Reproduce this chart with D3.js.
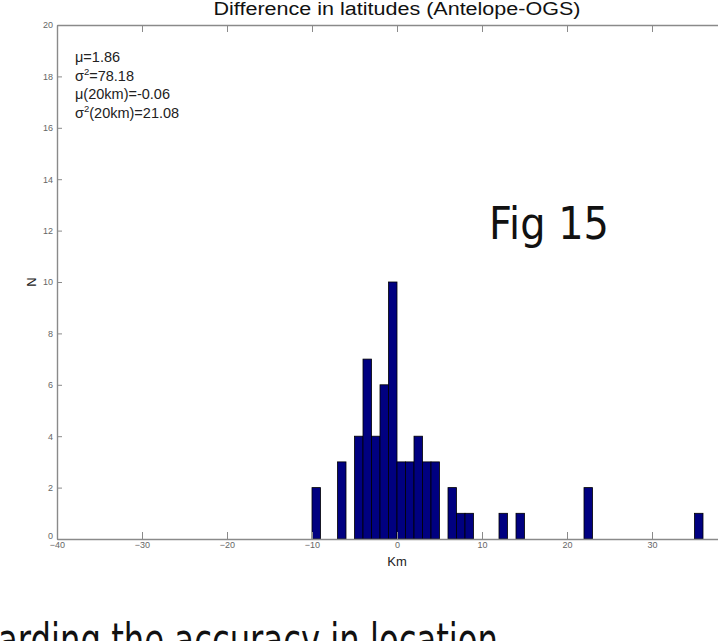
<!DOCTYPE html>
<html>
<head>
<meta charset="utf-8">
<script src="https://cdn.jsdelivr.net/npm/d3@7"></script>
<style>
  html, body { margin: 0; padding: 0; background: #fff; overflow: hidden; }
  svg { display: block; }
</style>
</head>
<body>
<svg id="chart" width="718" height="641"></svg>
<script>
// Histogram of latitude differences, 1 km bins (left edge of each bin)
const binLeft = [-10, -7, -5, -4, -3, -2, -1, 0, 1, 2, 3, 4, 6, 7, 8, 12, 14, 22, 35];
const binCount = [2, 3, 4, 7, 4, 6, 10, 3, 3, 4, 3, 3, 2, 1, 1, 1, 1, 2, 1];
const binWidth = 1;

const xTicks = [-40, -30, -20, -10, 0, 10, 20, 30];
const yTicks = [0, 2, 4, 6, 8, 10, 12, 14, 16, 18, 20];

const statLines = [
  { sym: "\u03bc", sup: "", rest: "=1.86" },
  { sym: "\u03c3", sup: "2", rest: "=78.18" },
  { sym: "\u03bc", sup: "", rest: "(20km)=-0.06" },
  { sym: "\u03c3", sup: "2", rest: "(20km)=21.08" }
];

const titleText = "Difference in latitudes (Antelope-OGS)";
const xLabel = "Km";
const yLabel = "N";
const figLabel = "Fig 15";
const captionText = "arding the accuracy in location";

const svg = d3.select("#chart");
const axisColor = "#8a8a8a";

// Axis box spans -40..40 km; the right end runs past the visible page
const x = d3.scaleLinear().domain([-40, 40]).range([57, 737]);
const y = d3.scaleLinear().domain([0, 20]).range([539, 25]);

// Bars
svg.append("g")
  .selectAll("rect")
  .data(binLeft.map((l, i) => ({ l, c: binCount[i] })))
  .join("rect")
  .attr("x", d => x(d.l))
  .attr("y", d => y(d.c))
  .attr("width", d => x(d.l + binWidth) - x(d.l))
  .attr("height", d => y(0) - y(d.c))
  .attr("fill", "#000080")
  .attr("stroke", "#000")
  .attr("stroke-width", 0.8);

// Axes (ticks pointing inward)
const styleAxis = g => {
  g.select(".domain").attr("stroke", axisColor).attr("stroke-width", 1.4);
  g.selectAll(".tick line").attr("stroke", axisColor).attr("stroke-width", 1);
  g.selectAll(".tick text").attr("fill", "#666")
    .attr("font-family", "Liberation Sans, Arial, sans-serif").attr("font-size", 9);
};

svg.append("g")
  .attr("transform", `translate(0,${y(0)})`)
  .call(d3.axisBottom(x).tickValues(xTicks).tickSizeInner(-7).tickSizeOuter(0).tickPadding(3).tickFormat(d3.format("d")))
  .call(styleAxis);

svg.append("g")
  .attr("transform", `translate(0,${y(20)})`)
  .call(d3.axisTop(x).tickValues(xTicks).tickSizeInner(-7).tickSizeOuter(0).tickFormat(""))
  .call(styleAxis);

const yAxis = svg.append("g")
  .attr("transform", `translate(${x(-40)},0)`)
  .call(d3.axisLeft(y).tickValues(yTicks).tickSizeInner(-5).tickSizeOuter(0).tickPadding(4).tickFormat(d3.format("d")))
  .call(styleAxis);
// lift the "0" label clear of the x-axis "-40" label
yAxis.selectAll(".tick text").filter(d => d === 0).attr("dy", "-0.05em");

// Title and axis labels
svg.append("text")
  .attr("x", x(0)).attr("y", 15)
  .attr("text-anchor", "middle")
  .attr("font-family", "Liberation Sans, Arial, sans-serif")
  .attr("font-size", 18)
  .attr("textLength", 367)
  .attr("lengthAdjust", "spacingAndGlyphs")
  .attr("fill", "#111")
  .text(titleText);

svg.append("text")
  .attr("x", x(0)).attr("y", 566)
  .attr("text-anchor", "middle")
  .attr("font-family", "Liberation Sans, Arial, sans-serif")
  .attr("font-size", 13)
  .attr("fill", "#222")
  .text(xLabel);

svg.append("text")
  .attr("transform", `translate(36,${y(10)}) rotate(-90)`)
  .attr("text-anchor", "middle")
  .attr("font-family", "Liberation Sans, Arial, sans-serif")
  .attr("font-size", 13)
  .attr("fill", "#222")
  .text(yLabel);

// Statistics block
const stats = svg.append("g")
  .attr("font-family", "Liberation Sans, Arial, sans-serif")
  .attr("font-size", 14.5)
  .attr("fill", "#222");
statLines.forEach((s, i) => {
  const t = stats.append("text").attr("x", 75).attr("y", 62 + i * 18.7);
  t.append("tspan").text(s.sym);
  if (s.sup) t.append("tspan").attr("font-size", 9.5).attr("dy", -6).text(s.sup);
  t.append("tspan").attr("dy", s.sup ? 6 : 0).text(s.rest);
});

// Figure number and caption
svg.append("text")
  .attr("x", 489).attr("y", 239)
  .attr("font-family", "DejaVu Sans, sans-serif")
  .attr("font-size", 44)
  .attr("textLength", 120)
  .attr("lengthAdjust", "spacingAndGlyphs")
  .attr("fill", "#111")
  .text(figLabel);

svg.append("text")
  .attr("x", -2).attr("y", 656)
  .attr("font-family", "DejaVu Sans, sans-serif")
  .attr("font-size", 46)
  .attr("textLength", 500)
  .attr("lengthAdjust", "spacingAndGlyphs")
  .attr("fill", "#111")
  .text(captionText);
</script>
</body>
</html>
